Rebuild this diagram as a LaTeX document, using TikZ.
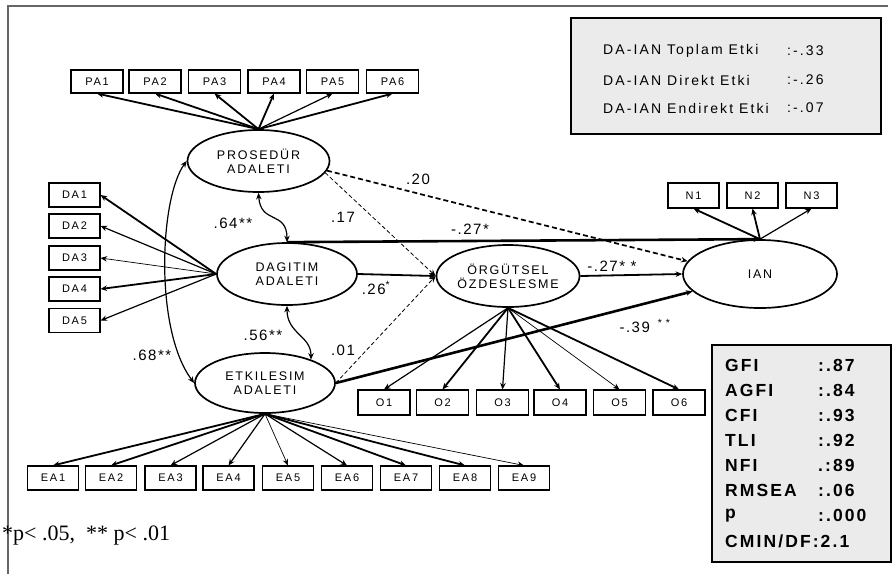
\documentclass[tikz,border=0pt]{standalone}
\usepackage{fontspec}
\setmainfont{Liberation Sans}
\newfontfamily\lsp[LetterSpace=14]{Liberation Sans}
\newfontfamily\bsp[LetterSpace=16]{Liberation Sans}
\newfontfamily\ssp[LetterSpace=15]{Liberation Sans}
\newfontfamily\numf[LetterSpace=10]{Liberation Sans}
\newfontfamily\fitf[LetterSpace=12]{Liberation Sans}
\newfontfamily\serf{Liberation Serif}
\usetikzlibrary{shapes.geometric,arrows.meta}
\begin{document}
\begin{tikzpicture}[x=1pt,y=-1pt,
  >={Stealth[length=6.5pt,width=5.5pt]},
  lat/.style={ellipse, draw, line width=1.7pt, minimum width=142pt, minimum height=62pt, inner sep=0pt, align=center, font=\lsp\fontsize{12.5}{14}\selectfont},
  obs/.style={rectangle, draw, line width=1.1pt, minimum width=51pt, minimum height=24pt, inner sep=0pt, font=\bsp\fontsize{11}{12}\selectfont},
  wA/.style={->, line width=0.7pt},
  wB/.style={->, line width=1.2pt},
  wC/.style={->, line width=1.8pt},
  wD/.style={->, line width=2.6pt},
  cov/.style={<->, line width=1.2pt},
  dsA/.style={->, line width=1.7pt, dash pattern=on 5pt off 3pt},
  dsB/.style={->, line width=0.8pt, dash pattern=on 4pt off 2.5pt},
  coef/.style={font=\numf\fontsize{15}{16}\selectfont, inner sep=0pt},
  stxt/.style={anchor=west, inner sep=0pt, font=\ssp\fontsize{14}{16}\selectfont},
  ftxt/.style={anchor=west, inner sep=0pt, font=\fitf\bfseries\fontsize{17.5}{19}\selectfont},
  panel/.style={draw, line width=2pt, fill=black!8, anchor=north west, inner sep=0pt}
]
\useasboundingbox (0,0) rectangle (894,574);
\fill[white] (0,0) rectangle (894,574);
% frame
\draw[black!60, line width=1.2pt] (8,574) -- (8,6) -- (888,6);

% panels
\node[panel, minimum width=310pt, minimum height=116pt] (stats) at (570,17) {};
\node[stxt] (s1) at (603,51) {DA-IAN Toplam Etki};
\node[stxt] (s1v) at (787,51) {:-.33};
\node[stxt] (s2) at (603,80) {DA-IAN Direkt Etki};
\node[stxt] (s2v) at (787,80) {:-.26};
\node[stxt] (s3) at (603,108) {DA-IAN Endirekt Etki};
\node[stxt] (s3v) at (787,108) {:-.07};

\node[panel, line width=1.8pt, minimum width=179pt, minimum height=217pt] (fitbox) at (711,344) {};
\foreach \k/\lab/\val [count=\j from 0] in {a/GFI/{:.87},b/AGFI/{:.84},c/CFI/{:.93},d/TLI/{:.92},e/NFI/{.:89},f/RMSEA/{:.06},g/p/{:.000}}{
  \node[ftxt] (f\k) at (725,365+25.1*\j) {\lab};
  \node[ftxt] (f\k v) at (818,365+25.1*\j) {\val};
}
\node[ftxt] (fh) at (725,541) {CMIN/DF:2.1};

% latent variables
\node[lat] (pro) at (258.5,161) {PROSEDÜR\\ADALETI};
\node[lat, minimum width=140pt] (dag) at (287,274) {DAGITIM\\ADALETI};
\node[lat, minimum width=140pt, minimum height=60pt] (etk) at (265,383) {ETKILESIM\\ADALETI};
\node[lat] (org) at (508,276) {ÖRGÜTSEL\\ÖZDESLESME};
\node[lat, minimum width=154pt, minimum height=68pt] (ian) at (760,274) {IAN};

% observed
\foreach \i/\x in {1/97,2/155,3/214.5,4/274,5/332.5,6/392.5}
  \node[obs, minimum width=52pt, minimum height=23pt] (pa\i) at (\x,81.5) {PA\i};
\foreach \i/\y in {1/195,2/226,3/258,4/289,5/320.5}
  \node[obs] (da\i) at (74.5,\y) {DA\i};
\foreach \i/\x in {1/53,2/111,3/170.5,4/228.5,5/288,6/347,7/406,8/465,9/524}
  \node[obs] (ea\i) at (\x,478) {EA\i};
\foreach \i/\x in {1/384,2/442.5,3/502.5,4/560,5/619.5,6/679}
  \node[obs, minimum width=52pt, minimum height=25pt] (o\i) at (\x,402.5) {O\i};
\foreach \i/\x in {1/693.5,2/752.5,3/811.5}
  \node[obs, minimum height=25pt] (n\i) at (\x,195.5) {N\i};

% loadings
\foreach \i/\w in {1/wC,2/wC,3/wC,4/wC,5/wB,6/wC}
  \draw[\w] (pro.north) -- (pa\i.south);
\foreach \i/\w in {1/wC,2/wB,3/wA,4/wC,5/wB}
  \draw[\w] (dag.west) -- (da\i.east);
\foreach \i/\w in {1/wC,2/wC,3/wB,4/wB,5/wA,6/wB,7/wC,8/wC,9/wA}
  \draw[\w] (etk.south) -- (ea\i.north);
\foreach \i/\w in {1/wB,2/wC,3/wB,4/wC,5/wA,6/wC}
  \draw[\w] (org.south) -- (o\i.north);
\foreach \i/\w in {1/wC,2/wC,3/wB}
  \draw[\w] (ian.north) -- (n\i.south);

% structural paths
\draw[dsA] (pro.-8) -- (ian.170);
\draw[dsB] (pro.-10) -- (org.west);
\draw[dsB] (etk.east) -- (org.west);
\draw[wC] (dag.east) -- (org.west);
\draw[wD] (dag.north) -- (ian.north);
\draw[wC] (org.east) -- (ian.west);
\draw[wD] (etk.east) -- (ian);

% covariances
\draw[cov] (pro.south) .. controls +(2,32) and +(0,-32) .. (dag.north);
\draw[cov] (dag.south) .. controls +(0,28) and +(0,-24) .. (etk.27);
\draw[cov] (pro.west) .. controls +(-27,37) and +(-40,-53) .. (etk.west);

% coefficients
\node[coef] (c20) at (418,179) {.20};
\node[coef] (c17) at (343,217) {.17};
\node[coef] (c64) at (233,223) {.64**};
\node[coef] (c27a) at (470,229) {-.27*};
\node[coef] (c26) at (376,288) {.26\textsuperscript{*}};
\node[coef] (c27b) at (612,266) {-.27* *};
\node[coef] (c39) at (645,326) {-.39\hspace{8pt}\textsuperscript{* *}};
\node[coef] (c56) at (263,335) {.56**};
\node[coef] (c01) at (343,350) {.01};
\node[coef] (c68) at (152,355) {.68**};

% note
\node[anchor=base west, inner sep=0pt, font=\serf\fontsize{22}{24}\selectfont] (note) at (2,540) {*p< .05,\ \ ** p< .01};
\end{tikzpicture}
\end{document}
